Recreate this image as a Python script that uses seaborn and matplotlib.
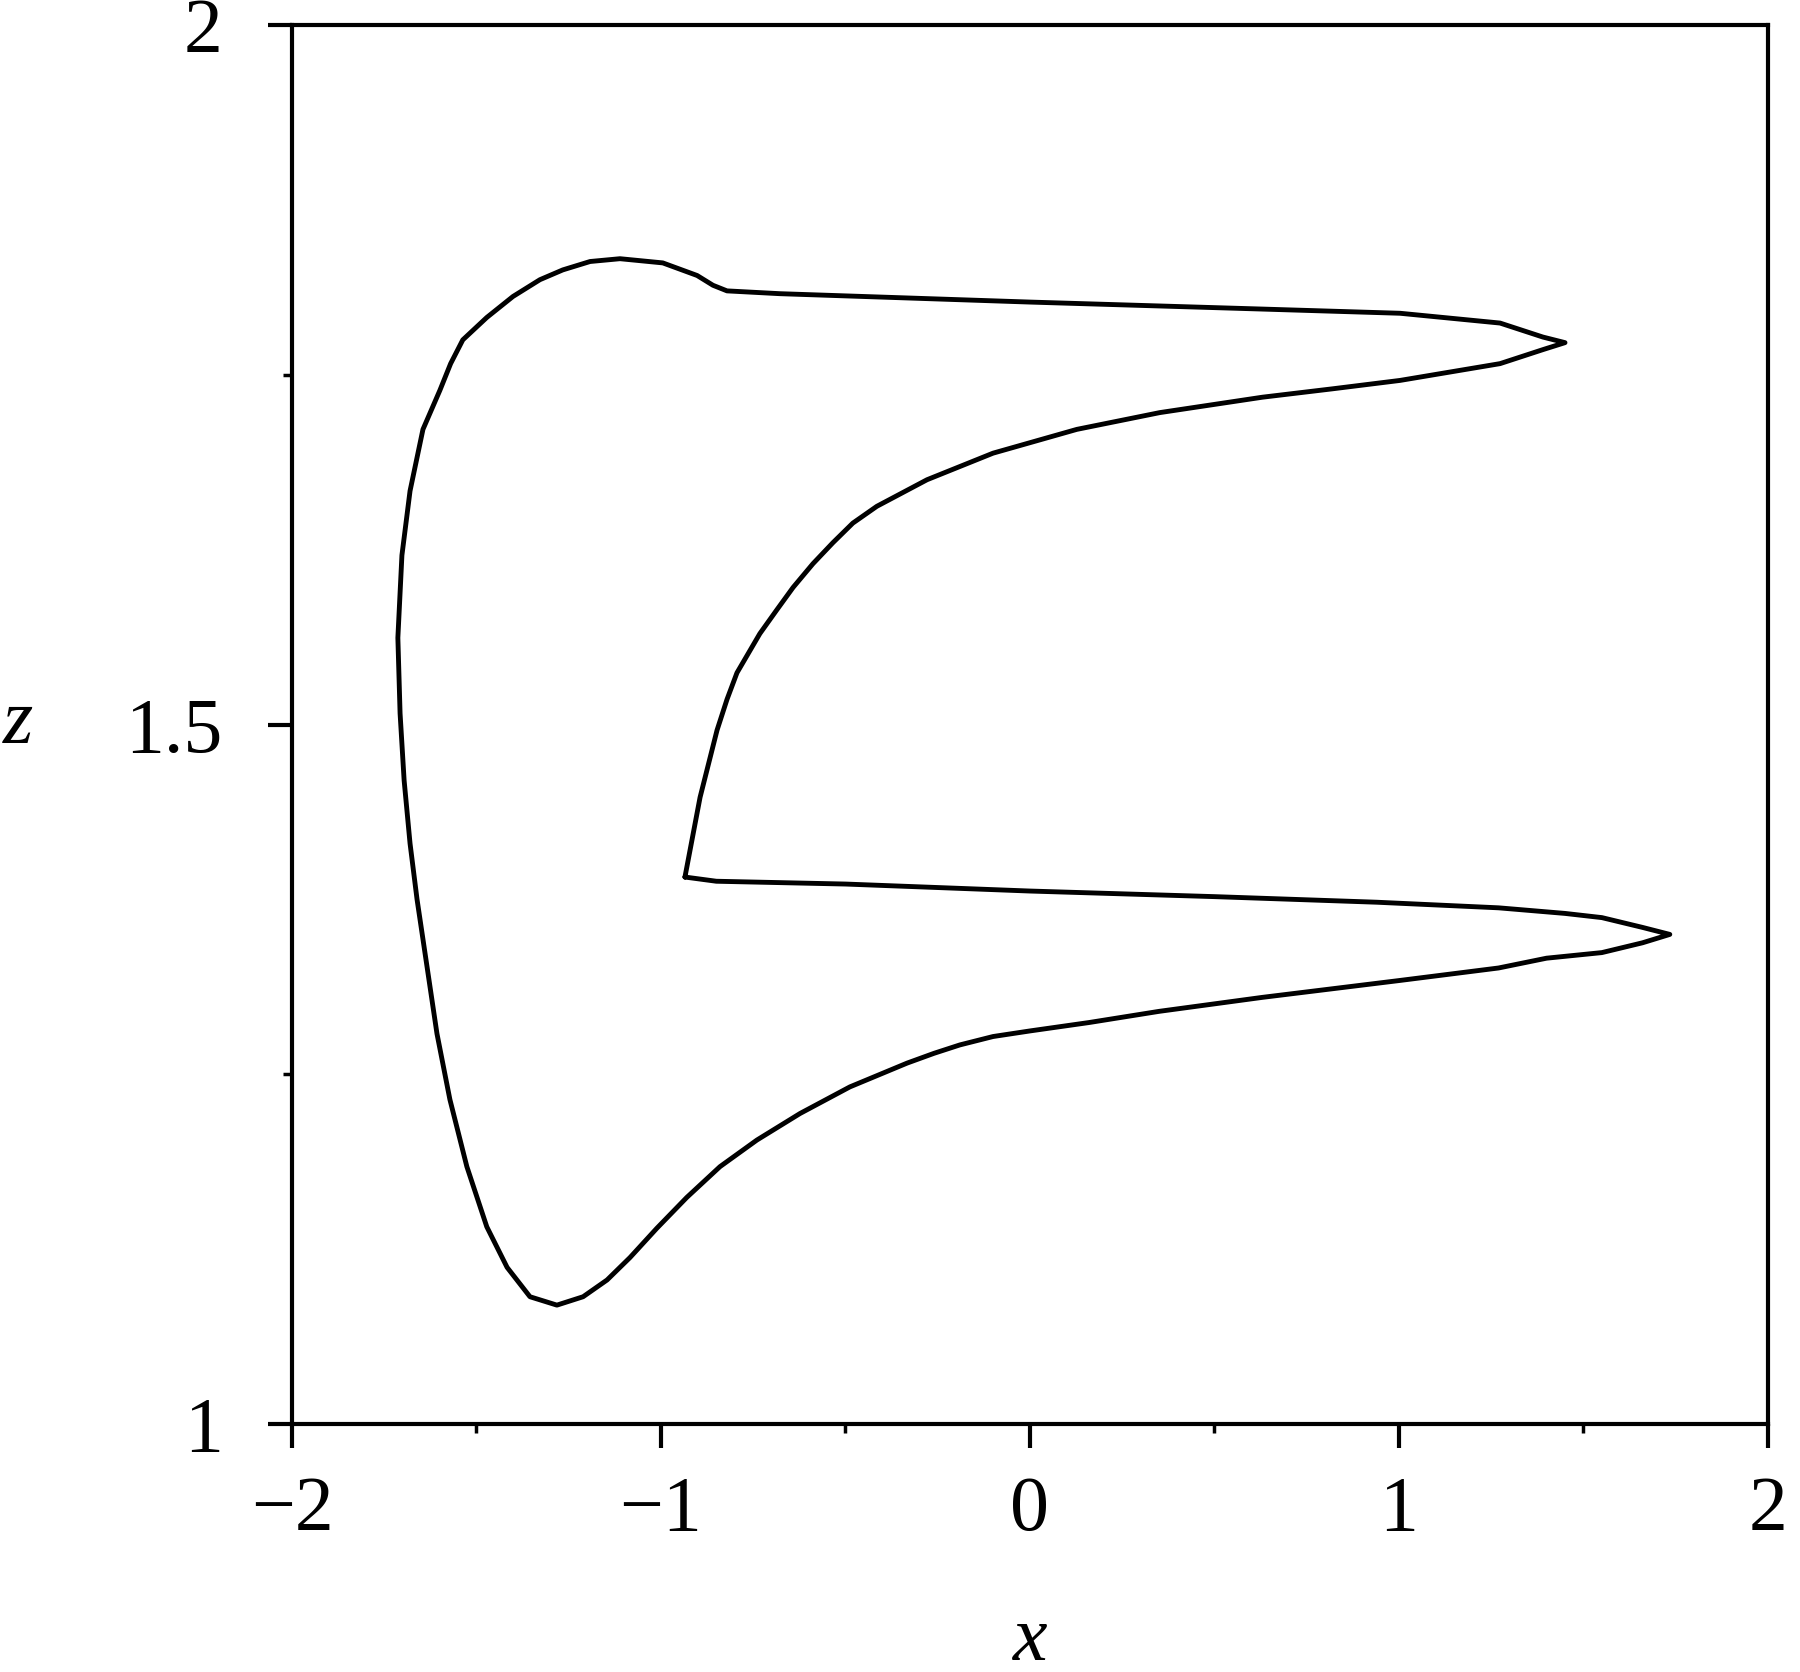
import matplotlib
matplotlib.use("Agg")
import matplotlib.pyplot as plt
import seaborn as sns
from matplotlib.ticker import MultipleLocator

# Limit cycle projected on the x-z plane,
# starting at the inner corner and running round the lower loop first
x_vals = [-0.935, -0.85, -0.50, 0.00, 0.50, 0.94, 1.27, 1.45, 1.55, 1.66, 1.734,
          1.66, 1.55, 1.40, 1.27, 1.00, 0.63, 0.35, 0.16, 0.00, -0.10, -0.19,
          -0.26, -0.333, -0.488, -0.623, -0.740, -0.840, -0.930, -1.011, -1.084,
          -1.146, -1.211, -1.282, -1.355, -1.417, -1.472, -1.526, -1.572, -1.607,
          -1.634, -1.661, -1.680, -1.696, -1.707, -1.713, -1.702, -1.680, -1.645,
          -1.599, -1.570, -1.537, -1.472, -1.401, -1.328, -1.266, -1.192, -1.111,
          -0.995, -0.902, -0.859, -0.821, -0.678, 0.00, 0.63, 1.003, 1.274, 1.390,
          1.450, 1.390, 1.274, 1.003, 0.82, 0.63, 0.352, 0.127, -0.100, -0.279,
          -0.415, -0.480, -0.534, -0.588, -0.642, -0.686, -0.732, -0.794, -0.821,
          -0.848, -0.894, -0.935]
z_vals = [1.391, 1.388, 1.386, 1.381, 1.377, 1.373, 1.369, 1.365, 1.362, 1.355, 1.350,
          1.344, 1.337, 1.333, 1.326, 1.317, 1.305, 1.295, 1.287, 1.281, 1.277, 1.271,
          1.265, 1.258, 1.241, 1.222, 1.203, 1.184, 1.162, 1.140, 1.119,
          1.103, 1.091, 1.085, 1.091, 1.112, 1.141, 1.184, 1.232, 1.279,
          1.327, 1.375, 1.415, 1.460, 1.508, 1.562, 1.621, 1.667, 1.711,
          1.739, 1.758, 1.775, 1.791, 1.806, 1.818, 1.825, 1.831, 1.833,
          1.830, 1.821, 1.814, 1.810, 1.808, 1.802, 1.797, 1.794, 1.787, 1.777,
          1.773, 1.768, 1.758, 1.746, 1.740, 1.734, 1.723, 1.711, 1.694, 1.675,
          1.656, 1.644, 1.630, 1.615, 1.598, 1.582, 1.565, 1.537, 1.518,
          1.496, 1.448, 1.391]

x_ticks = [-2, -1, 0, 1, 2]
z_ticks = [1, 1.5, 2]
x_labels = ["\u22122", "\u22121", "0", "1", "2"]
z_labels = ["1", "1.5", "2"]

sns.set_style("ticks")
plt.rcParams["font.family"] = ["Liberation Serif", "DejaVu Serif"]
plt.rcParams["text.color"] = "black"
plt.rcParams["axes.labelcolor"] = "black"
plt.rcParams["xtick.color"] = "black"
plt.rcParams["ytick.color"] = "black"

fig = plt.figure(figsize=(18, 16.72), dpi=100)
ax = fig.add_axes([0.1622, 0.1483, 0.8200, 0.8367])

sns.lineplot(x=x_vals, y=z_vals, sort=False, estimator=None, color="black",
             linewidth=3.5, ax=ax)

ax.set_xlim(-2, 2)
ax.set_ylim(1, 2)
ax.set_xticks(x_ticks)
ax.set_xticklabels(x_labels)
ax.set_yticks(z_ticks)
ax.set_yticklabels(z_labels)
ax.xaxis.set_minor_locator(MultipleLocator(0.5))
ax.yaxis.set_minor_locator(MultipleLocator(0.25))

for side in ["top", "right", "left", "bottom"]:
    ax.spines[side].set_visible(True)
    ax.spines[side].set_linewidth(3)
    ax.spines[side].set_color("black")

ax.tick_params(which="major", direction="out", length=17, width=3,
               labelsize=56, colors="black")
ax.tick_params(axis="x", which="major", pad=20)
ax.tick_params(axis="y", which="major", pad=33)
ax.tick_params(which="minor", direction="out", length=6.5, width=2.5, colors="black")

ax.set_xlabel("x", fontsize=56, style="italic", labelpad=42)
ax.set_ylabel("z", fontsize=56, style="italic", rotation=0, labelpad=77,
              va="center")

fig.savefig("out.png", dpi=100, facecolor="white")
plt.close(fig)
